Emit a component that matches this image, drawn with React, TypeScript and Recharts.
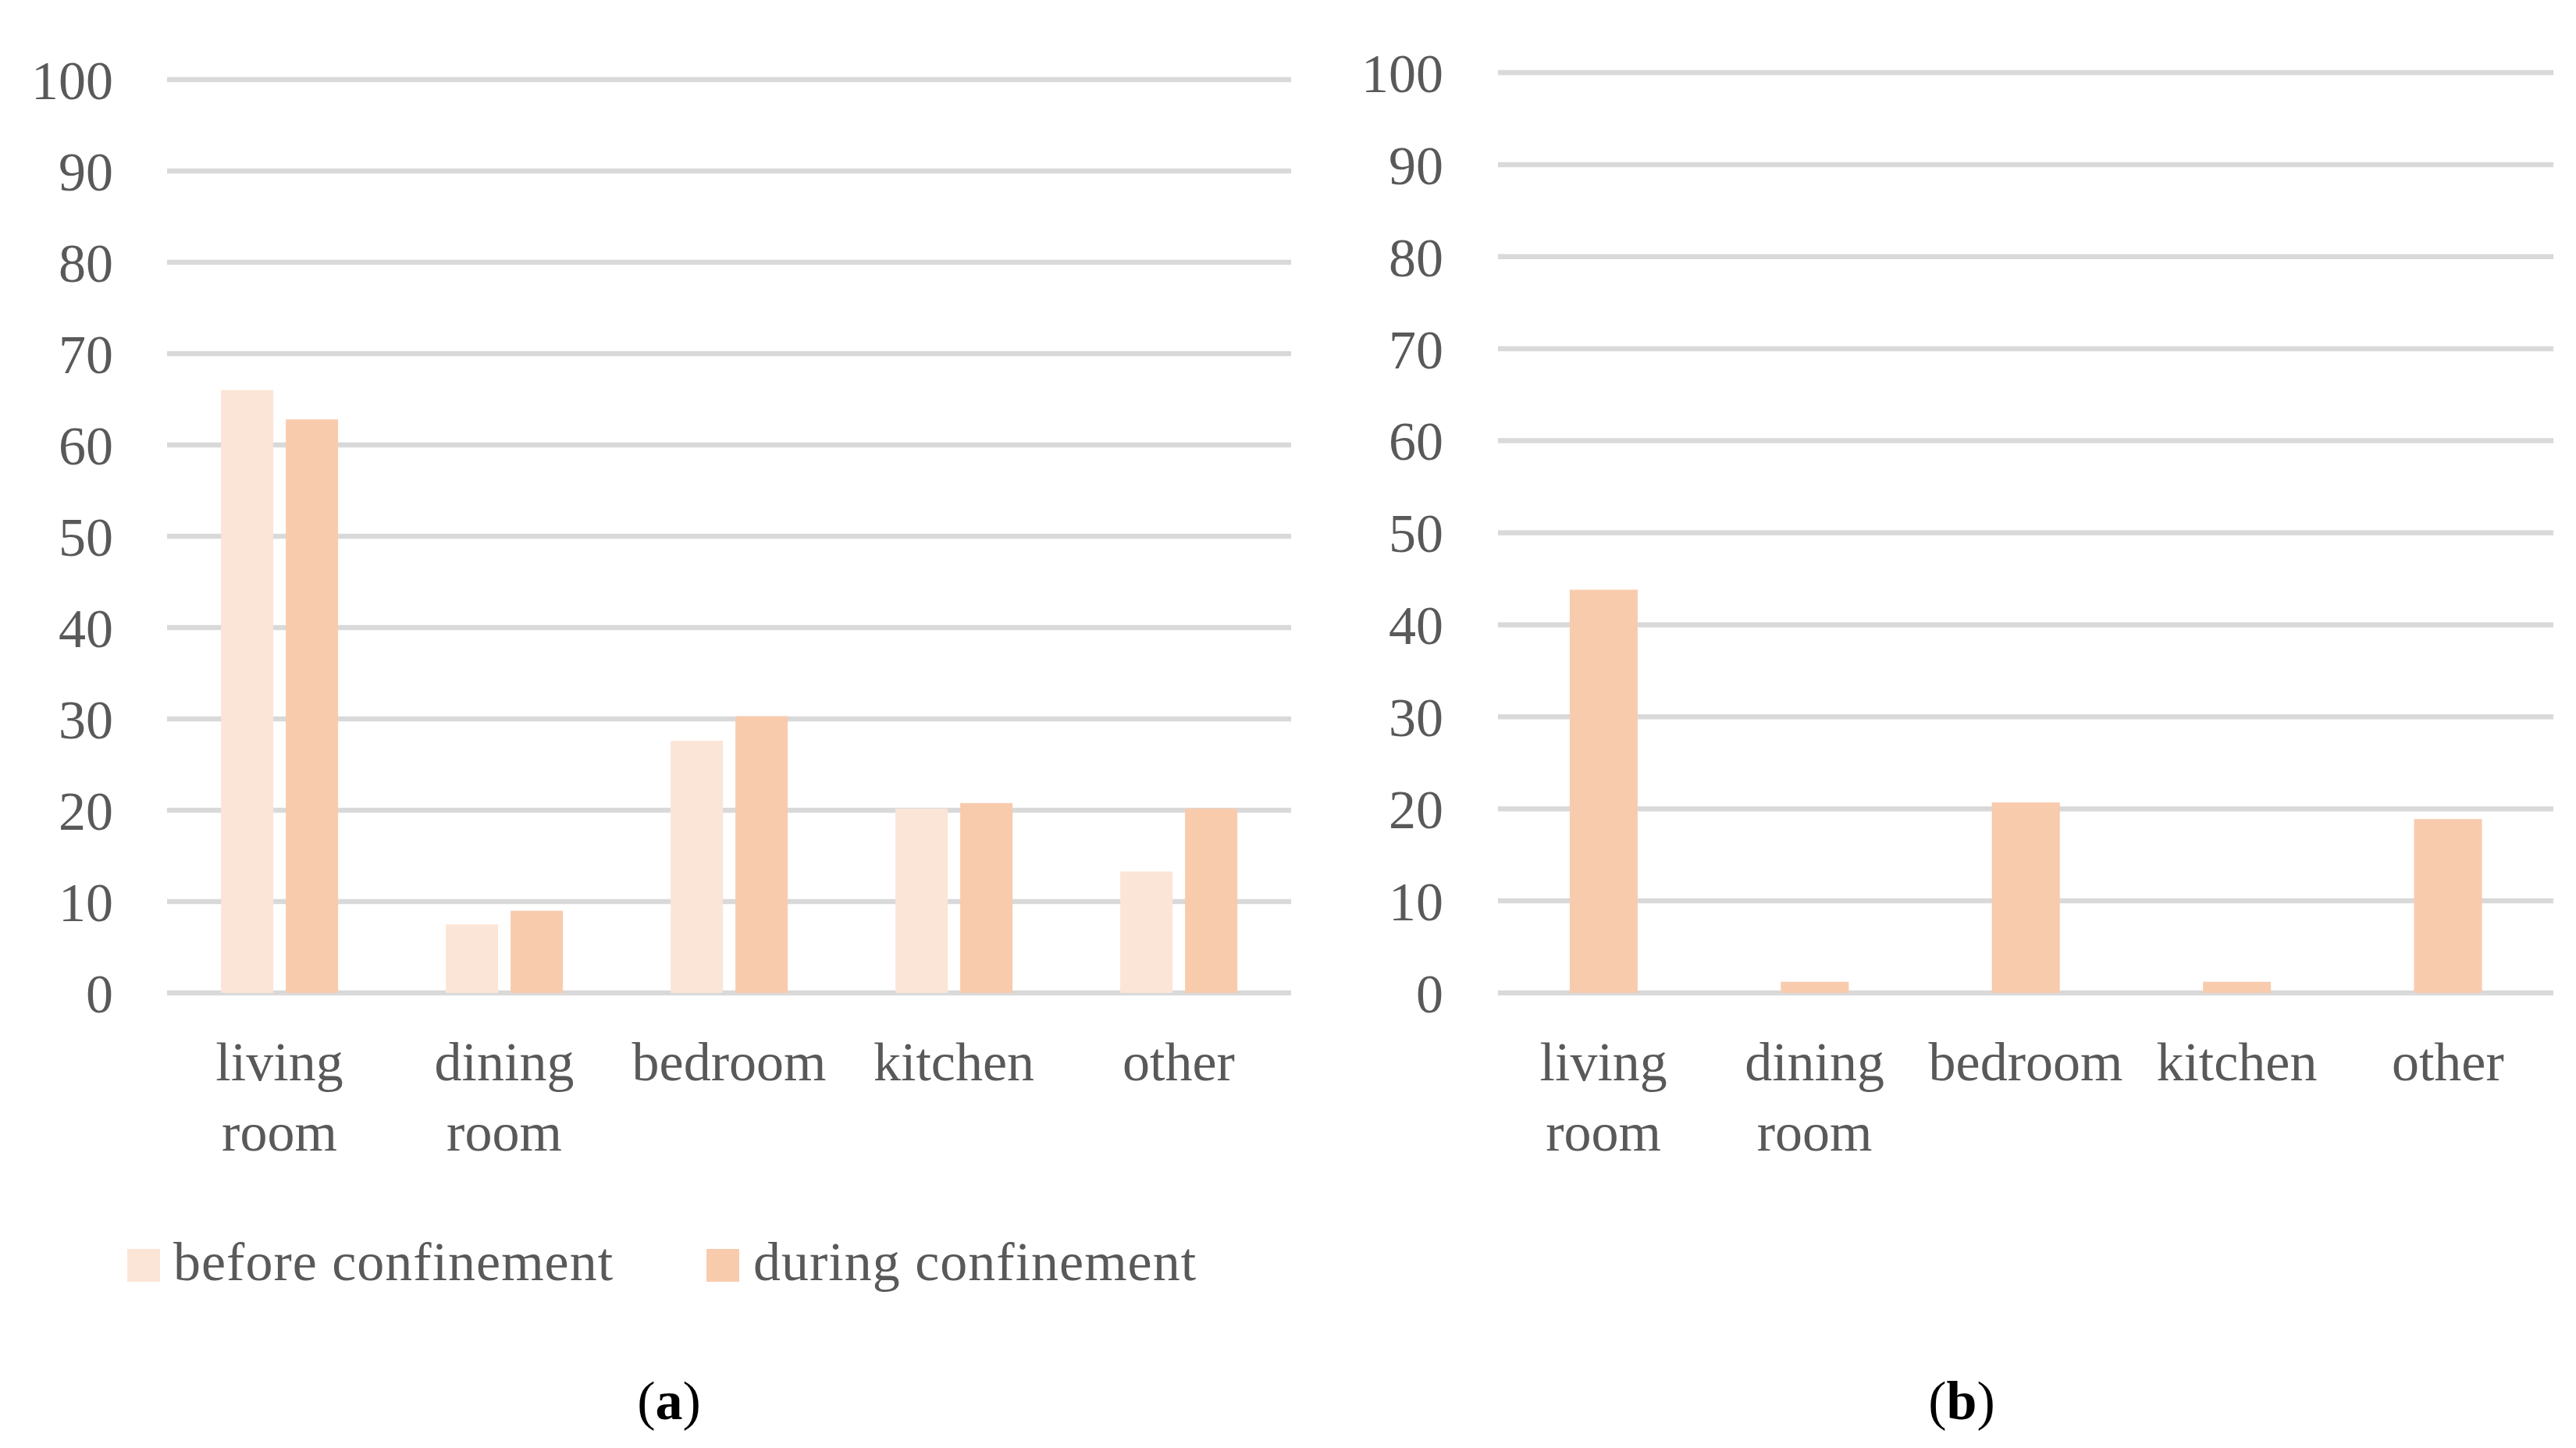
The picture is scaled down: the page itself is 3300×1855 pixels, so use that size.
import React from 'react';
import { BarChart, Bar, XAxis, YAxis, CartesianGrid, Legend } from 'recharts';

const categories = ['living room', 'dining room', 'bedroom', 'kitchen', 'other'];
const beforeA = [66.0, 7.5, 27.6, 20.2, 13.3];
const duringA = [62.8, 9.0, 30.3, 20.8, 20.2];
const duringB = [43.8, 1.2, 20.7, 1.2, 18.9];
const yTicks = [0, 10, 20, 30, 40, 50, 60, 70, 80, 90, 100];
const seriesNames = ['before confinement', 'during confinement'];
const captions = ['a', 'b'];

const FONT = '"Liberation Serif", "DejaVu Serif", serif';
const TEXT = '#595959';
const GRID = '#d9d9d9';
const C_BEFORE = '#FBE5D6';
const C_DURING = '#F8CBAD';
const FS = 70;

const dataA = categories.map((c, i) => ({ name: c, before: beforeA[i], during: duringA[i] }));
const dataB = categories.map((c, i) => ({ name: c, during: duringB[i] }));

const XTick = (props: any) => {
  const { x, y, payload } = props;
  const words = String(payload.value).split(' ');
  return (
    <text x={x} y={y} textAnchor="middle" fill={TEXT} fontSize={FS} fontFamily={FONT}>
      {words.map((w, i) => (
        <tspan key={i} x={x} dy={i === 0 ? 112 : 90}>{w}</tspan>
      ))}
    </text>
  );
};

const LegendA = () => (
  <svg width={1700} height={200} style={{ display: 'block' }}>
    <rect x={163} y={128} width={42} height={42} fill={C_BEFORE} />
    <text x={222} y={168} fill={TEXT} fontSize={FS} fontFamily={FONT} letterSpacing={1}>{seriesNames[0]}</text>
    <rect x={905} y={128} width={42} height={42} fill={C_DURING} />
    <text x={965} y={168} fill={TEXT} fontSize={FS} fontFamily={FONT} letterSpacing={1}>{seriesNames[1]}</text>
  </svg>
);

const yTickStyle = { fill: TEXT, fontSize: FS, fontFamily: FONT };

export default function App() {
  return (
    <div style={{ position: 'absolute', left: 0, top: 0, width: 3300, height: 1855, background: '#fff', overflow: 'hidden' }}>
      <div style={{ position: 'absolute', left: 0, top: 0 }}>
        <BarChart
          width={1700}
          height={1672}
          data={dataA}
          margin={{ top: 102, right: 46, left: 0, bottom: 0 }}
          barCategoryGap="24%"
          barGap={16}
        >
          <CartesianGrid vertical={false} stroke={GRID} strokeWidth={6.5} />
          <YAxis
            width={214}
            domain={[0, 100]}
            ticks={yTicks}
            interval={0}
            axisLine={false}
            tickLine={false}
            tickSize={0}
            tickMargin={69}
            tick={yTickStyle}
          />
          <XAxis
            dataKey="name"
            height={200}
            interval={0}
            axisLine={false}
            tickLine={false}
            tickSize={0}
            tickMargin={0}
            tick={<XTick />}
          />
          <Legend verticalAlign="bottom" content={<LegendA />} wrapperStyle={{ left: 0, width: 1700 }} />
          <Bar dataKey="before" name={seriesNames[0]} fill={C_BEFORE} isAnimationActive={false} />
          <Bar dataKey="during" name={seriesNames[1]} fill={C_DURING} isAnimationActive={false} />
        </BarChart>
      </div>
      <div style={{ position: 'absolute', left: 1650, top: 0 }}>
        <BarChart
          width={1650}
          height={1572}
          data={dataB}
          margin={{ top: 93, right: 29, left: 0, bottom: 0 }}
          barCategoryGap="34%"
        >
          <CartesianGrid vertical={false} stroke={GRID} strokeWidth={6.5} />
          <YAxis
            width={269}
            domain={[0, 100]}
            ticks={yTicks}
            interval={0}
            axisLine={false}
            tickLine={false}
            tickSize={0}
            tickMargin={70}
            tick={yTickStyle}
          />
          <XAxis
            dataKey="name"
            height={300}
            interval={0}
            axisLine={false}
            tickLine={false}
            tickSize={0}
            tickMargin={0}
            tick={<XTick />}
          />
          <Bar dataKey="during" name={seriesNames[1]} fill={C_DURING} isAnimationActive={false} />
        </BarChart>
      </div>
      <svg width={3300} height={1855} style={{ position: 'absolute', left: 0, top: 0, pointerEvents: 'none' }}>
        <text x={857} y={1818} textAnchor="middle" fill="#000" fontSize={FS} fontFamily={FONT}>
          (<tspan fontWeight="bold">{captions[0]}</tspan>)
        </text>
        <text x={2513} y={1818} textAnchor="middle" fill="#000" fontSize={FS} fontFamily={FONT}>
          (<tspan fontWeight="bold">{captions[1]}</tspan>)
        </text>
      </svg>
    </div>
  );
}
